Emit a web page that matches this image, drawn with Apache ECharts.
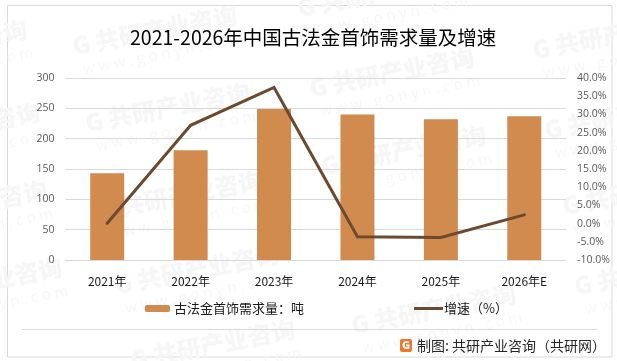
<!DOCTYPE html>
<html><head><meta charset="utf-8">
<style>html,body{margin:0;padding:0;background:#fff}#c{width:617px;height:361px}</style>
<script src="https://cdn.jsdelivr.net/npm/echarts@6/dist/echarts.min.js"></script>
</head><body><div id="c"></div>
<script>
const categories = ['2021年','2022年','2023年','2024年','2025年','2026年E'];
const demand = [143,181,249,240,232,237];
const growth = [0.1,27,37.4,-3.6,-3.8,2.4];
const demandName = '古法金首饰需求量：吨';
const growthName = '增速（%）';
const titleText = '2021-2026年中国古法金首饰需求量及增速';
const footerText = '制图: 共研产业咨询（共研网）';
const wmAnchors = [[75,58],[88,135],[312,100],[535,62],[547,142],[324,178],[100,223],[117,297],[354,337],[565,218],[577,298],[-135,72],[-122,155],[-115,233],[-100,310],[300,20],[133,372]];

const CJK = '"Noto Sans CJK SC","Noto Sans",sans-serif';
const chart = echarts.init(document.getElementById('c'),null,{renderer:'canvas'});
const wm = [];
wmAnchors.forEach(([x,y])=>{
  wm.push({type:'group',x,y,rotation:11*Math.PI/180,z:-10,silent:true,children:[
    {type:'text',x:0,y:-24,z:-10,style:{text:'G 共研产业咨询',font:'900 24px '+CJK,fill:'#f6f6f6'}},
    {type:'text',x:6,y:6,z:-10,style:{text:'w w w . g o n y n . c o m',font:'15px "Open Sans"',fill:'#f6f6f6'}}
  ]});
});
chart.setOption({
  animation:false,
  backgroundColor:'#fff',
  title:{text:titleText,left:130,top:28,padding:0,textStyle:{fontFamily:CJK,fontWeight:'normal',fontSize:19.5,color:'#000'}},
  grid:{left:65.5,right:51,top:78,bottom:101,containLabel:false},
  legend:[
    {data:[demandName],left:145,top:302,itemWidth:25,itemHeight:7,itemGap:4,padding:0,textStyle:{fontFamily:CJK,fontSize:13,color:'#1a1a1a',padding:[0,0,0,-1]}},
    {data:[{name:growthName,icon:'rect'}],left:414,top:302,itemWidth:29,itemHeight:3,padding:0,textStyle:{fontFamily:CJK,fontSize:13,color:'#1a1a1a',padding:[0,0,0,-4]}}
  ],
  xAxis:{type:'category',data:categories,axisTick:{show:false},
    axisLine:{lineStyle:{color:'#d9d9d9',width:1}},
    axisLabel:{margin:15,fontFamily:CJK,fontSize:12,color:'#1a1a1a'}},
  yAxis:[
    {type:'value',min:0,max:300,interval:50,axisLine:{show:false},axisTick:{show:false},
     splitLine:{lineStyle:{color:'#d9d9d9',width:1}},
     axisLabel:{margin:11,fontFamily:'"Open Sans"',fontSize:10.5,color:'#595959'}},
    {type:'value',min:-10,max:40,interval:5,axisLine:{show:false},axisTick:{show:false},splitLine:{show:false},
     axisLabel:{margin:11,fontFamily:'"Open Sans"',fontSize:10.5,color:'#595959',formatter:v=>v.toFixed(1)+'%'}}
  ],
  series:[
    {name:demandName,type:'bar',data:demand,barWidth:34,itemStyle:{color:'#d18b4f'},z:2},
    {name:growthName,type:'line',yAxisIndex:1,data:growth,symbol:'none',lineStyle:{color:'#6b4a2f',width:3,cap:'round',join:'miter'},itemStyle:{color:'#6b4a2f'},z:3}
  ],
  graphic:wm.concat([
    {type:'rect',shape:{x:7.5,y:5.5,width:604.5,height:351.5},z:-20,silent:true,style:{fill:'none',stroke:'#d9d9d9',lineWidth:1}},
    {type:'line',shape:{x1:22,y1:329.5,x2:597,y2:329.5},style:{stroke:'#d9d9d9',lineWidth:1},silent:true},
    {type:'rect',shape:{x:400,y:339,width:12,height:13,r:2},style:{fill:'#f0762a'},silent:true},
    {type:'text',x:406,y:345.5,style:{text:'G',font:'900 11px "Open Sans"',fill:'#fff',align:'center',verticalAlign:'middle'},silent:true},
    {type:'text',x:417,y:346,style:{text:footerText,font:'14px '+CJK,fill:'#262626',verticalAlign:'middle'},silent:true}
  ])
});
</script></body></html>
